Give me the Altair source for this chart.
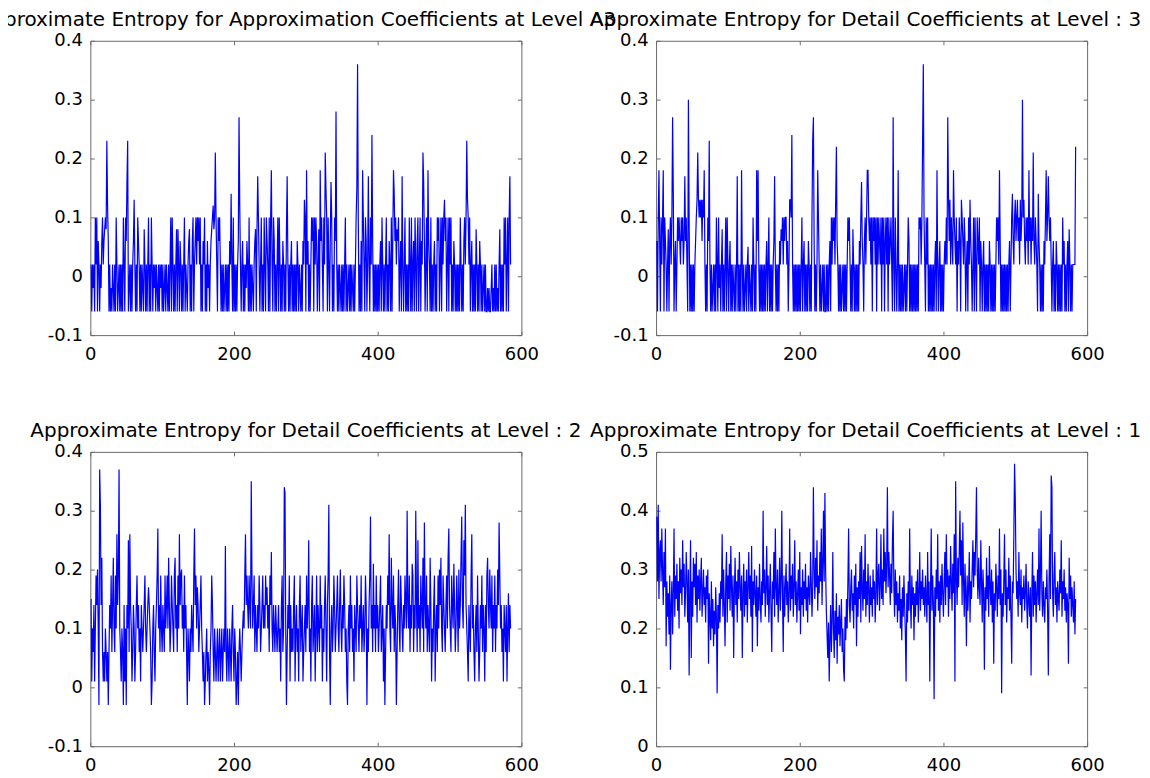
import altair as alt
import numpy as np
import pandas as pd

# values in hundredths, index 1..N
a3 = [
 2,-6,2,-2,2,-6,10,2,10,-6,6,2,-6,2,-2,6,10,2,6,8,
 10,8,23,12,6,-6,2,-6,-2,-6,2,-2,-6,2,-6,10,2,-6,-2,2,
 -6,2,-6,2,-6,10,2,-6,10,6,16,23,-6,-2,2,-6,2,-6,2,6,
 13,2,-6,2,-6,10,6,2,-6,2,-6,2,-2,-6,8,2,-6,2,-6,2,
 10,-6,2,-6,10,2,-6,2,-2,2,-6,2,-2,-6,2,-6,2,-2,2,-6,
 2,-6,-2,2,-6,2,-2,-6,2,-6,2,10,-6,10,2,-6,2,-6,2,8,
 -6,8,2,-6,6,2,-6,2,-6,2,10,-6,2,-2,-6,2,6,8,-6,2,
 -6,6,10,-6,2,6,10,2,10,6,10,2,10,-6,2,-6,6,2,10,-6,
 2,-6,6,-2,2,-6,2,6,8,10,12,8,10,21,10,2,-6,10,6,10,
 2,-6,2,-6,2,-6,-2,2,-6,2,-6,2,-6,6,2,14,2,-6,10,-6,
 2,-6,2,-6,2,6,27,12,2,-6,2,6,-6,2,-6,2,-2,6,2,-6,
 10,-6,2,-6,2,-2,-6,2,6,8,-6,8,17,10,2,-6,2,10,-6,2,
 -6,10,2,-6,10,6,2,-6,10,-6,10,18,2,-6,10,6,-6,2,-6,2,
 10,-6,10,2,-6,2,-6,6,2,-6,2,-6,8,17,2,-6,2,-6,2,6,
 -6,2,-6,2,-6,2,-6,6,2,-6,2,-2,-6,2,-6,6,2,13,10,-6,
 18,2,6,-6,2,-6,2,10,6,10,-6,10,2,10,6,-6,2,8,-6,18,
 6,10,2,-6,10,2,21,15,10,-6,10,2,-6,6,16,10,-6,2,-6,10,
 6,28,2,-6,2,-6,2,-2,-6,2,-6,2,-6,2,10,-6,2,-6,-2,2,
 -6,2,-6,2,-2,-6,2,-6,2,10,15,36,10,-6,2,-6,6,-6,18,10,
 2,-6,10,6,-6,2,17,2,-6,10,2,24,6,-6,2,-6,2,-6,2,-6,
 2,-6,2,6,-6,10,2,-6,2,-6,2,10,-6,2,-6,6,2,-6,10,-6,
 6,18,14,6,10,2,8,6,10,-6,2,6,-6,17,2,-6,2,10,-6,2,
 -6,2,-6,10,2,-6,10,-6,2,6,-6,10,2,-6,6,10,-6,2,10,-6,
 6,2,21,16,6,-6,2,10,-6,18,6,2,-6,10,-6,2,-6,2,6,-6,
 2,-6,10,6,10,-6,2,10,-6,10,2,10,13,6,10,-6,2,10,-6,10,
 2,10,-6,2,-6,6,2,-6,2,-6,2,-6,2,-6,10,2,-6,2,-6,6,
 10,2,10,23,13,10,2,10,-6,2,6,-6,2,-6,2,-6,8,2,-6,2,
 -6,6,2,-6,2,-6,-2,2,-6,2,-6,-6,-2,-6,-2,-6,-6,-2,2,-6,
 -2,-6,2,-6,2,-6,-2,-6,2,8,-6,2,-6,2,-6,10,2,10,-6,2,
 10,-6,10,17,2,
]

d3 = [
 6,-6,10,18,6,-6,10,2,10,18,-6,10,6,2,-6,2,8,-6,6,10,
 2,10,27,14,-6,2,6,-6,2,10,6,10,6,2,10,6,10,2,6,17,
 6,10,2,-6,30,10,-6,2,-6,2,-6,2,-6,2,6,10,13,21,13,10,
 13,10,13,6,13,10,18,2,-6,2,-6,10,6,23,2,-6,2,-6,-2,2,
 -6,2,-6,10,2,-6,10,-2,2,-6,2,8,-6,2,-6,2,10,-6,10,2,
 -6,2,6,-6,2,-6,2,-2,-6,2,-6,2,17,-6,2,-6,2,-6,18,2,
 -6,2,-6,-2,2,-6,2,5,-6,2,-2,-6,2,-6,10,2,-6,2,-6,18,
 6,18,2,-6,2,-6,2,-6,2,-6,2,-6,2,6,-6,2,10,-6,2,-6,
 2,-6,2,6,17,2,-6,2,-6,2,-6,6,2,8,6,10,2,10,6,10,
 10,2,6,-6,2,13,13,10,24,2,-6,2,-6,2,-6,2,-6,2,-6,2,
 -6,2,10,-6,2,6,-6,2,-6,2,-6,6,2,-6,2,-6,10,23,27,6,
 -6,2,-6,2,18,10,2,-6,2,-6,-2,2,-6,2,-6,-6,2,-6,2,-6,
 2,6,-6,10,2,10,6,10,2,13,22,6,2,-6,2,-6,2,-6,-2,2,
 -6,2,-6,2,-6,2,10,6,10,2,-6,2,-6,8,2,-6,2,-6,2,-6,
 2,-6,6,2,10,16,6,2,-6,6,10,2,10,18,18,10,6,10,2,10,
 -6,10,6,10,2,10,-6,10,2,10,6,2,10,-6,10,2,10,-6,6,10,
 2,10,-6,10,2,6,10,2,-6,27,2,-6,10,2,-6,2,18,-6,2,-6,
 2,-6,2,-6,-2,2,-6,2,-6,2,10,6,-6,2,-6,2,-6,2,-6,2,
 -6,2,-6,2,-6,10,8,10,2,10,23,36,10,2,-6,10,2,10,-6,2,
 -6,2,-6,2,-6,2,-6,2,6,-6,18,2,-6,2,6,-6,2,-6,2,-6,
 2,6,2,10,2,27,14,6,13,2,10,6,2,18,10,6,2,10,-6,6,
 2,10,6,-6,13,10,6,2,10,6,-6,2,6,-6,10,2,13,6,2,-6,
 2,10,-6,10,2,-6,10,6,2,10,-6,6,2,-6,2,6,-6,2,-6,2,
 -6,2,-6,6,2,-6,2,-6,2,-6,2,-6,2,10,6,10,2,18,6,-6,
 2,-6,2,-6,2,-6,2,-6,2,-6,2,6,-6,2,10,14,6,2,10,13,
 6,10,13,6,10,2,13,6,10,30,10,13,6,2,10,6,10,2,18,6,
 10,2,10,6,21,6,2,10,6,2,-6,14,6,2,-6,2,-6,2,-6,6,
 2,10,18,6,10,17,10,6,10,2,-6,2,6,-6,2,-6,6,2,-6,2,
 -6,2,-6,2,-6,10,2,6,-6,2,-6,2,6,-6,8,2,-6,2,-6,2,
 2,2,2,22,
]

d2 = [
 15,1,10,6,14,1,10,19,14,20,10,-3,37,31,14,22,6,1,6,1,
 10,6,1,6,-3,6,14,10,19,6,14,22,10,6,19,10,26,14,19,37,
 10,6,1,10,6,-3,14,1,10,-3,14,10,25,6,26,14,10,1,6,14,
 10,1,6,14,19,10,14,6,10,1,14,10,6,10,14,19,10,6,10,14,
 17,14,10,6,-3,1,10,14,6,1,10,14,19,27,10,14,6,19,10,6,
 14,10,6,19,10,14,19,10,22,14,6,10,19,14,10,6,19,22,10,14,
 6,19,10,26,14,19,20,10,14,6,19,10,14,6,-3,10,6,1,10,6,
 14,10,6,19,27,14,19,10,17,14,6,10,14,19,10,6,1,6,-3,1,
 6,10,1,6,3,-3,6,10,19,14,6,1,10,6,1,6,10,1,6,10,
 1,6,10,1,6,10,6,24,6,1,10,6,1,10,6,1,10,14,6,1,
 10,6,-3,1,6,-3,6,10,6,1,6,10,13,10,19,26,14,19,14,10,
 19,14,10,35,19,10,14,19,6,14,10,6,14,10,19,14,6,10,14,19,
 10,14,10,19,14,17,10,14,6,19,14,23,10,6,14,10,6,14,10,6,
 10,14,6,10,1,14,19,6,10,34,33,10,-3,6,14,10,19,1,14,6,
 10,6,14,19,1,10,14,6,10,1,14,19,6,10,14,1,6,10,14,6,
 19,10,14,25,6,10,1,14,19,6,10,14,1,10,19,6,14,10,6,19,
 10,14,1,10,6,14,19,10,1,14,19,31,6,-3,10,14,6,10,19,14,
 6,10,14,19,10,6,14,20,10,6,14,10,19,14,6,10,1,-3,10,14,
 6,19,10,14,6,10,1,14,10,6,19,14,10,6,14,10,19,6,10,14,
 6,10,19,14,-3,10,6,14,19,29,10,14,6,21,10,14,6,19,10,14,
 6,10,14,19,6,10,14,1,10,-3,6,14,10,19,14,26,10,6,22,14,
 10,19,6,14,10,-3,6,14,20,10,6,19,14,10,6,14,10,19,14,10,
 30,14,10,19,6,14,10,21,19,6,14,10,30,14,6,25,10,14,6,19,
 14,10,22,6,28,14,10,19,6,14,10,6,22,14,1,10,6,14,19,1,
 10,14,6,19,10,20,14,22,10,6,19,14,10,6,14,19,10,22,27,14,
 10,6,19,14,10,21,14,6,10,19,14,6,20,10,14,22,29,14,10,25,
 19,31,14,10,6,1,14,10,6,19,26,10,14,6,1,10,14,6,19,10,
 1,6,14,10,19,6,14,10,1,14,6,19,22,14,10,20,14,10,19,6,
 14,10,19,6,14,10,20,14,28,19,10,14,6,10,1,14,10,6,14,1,
 10,16,6,14,10,
]

d1 = [
 39,28,41,25,33,35,28,37,30,24,33,27,37,17,28,22,26,19,29,13,
 24,28,19,26,37,22,29,25,31,23,28,20,32,26,30,24,35,27,31,22,
 26,33,28,21,30,12,26,35,15,28,22,32,27,31,24,33,21,29,25,30,
 23,28,32,22,26,30,24,27,21,29,25,30,14,26,22,18,28,20,25,17,
 23,19,27,22,9,24,20,26,21,28,25,36,22,30,24,17,28,33,21,29,
 25,31,23,34,27,22,29,15,26,32,24,28,21,30,25,33,27,23,29,15,
 26,31,22,28,24,30,21,27,33,25,29,22,34,16,28,24,30,26,22,29,
 17,27,23,31,25,21,28,24,40,26,30,22,27,34,24,29,21,26,31,23,
 16,28,25,33,22,37,27,24,30,21,26,32,23,28,40,25,16,29,22,27,
 31,24,28,21,26,37,23,29,25,31,22,27,35,24,28,21,26,30,23,33,
 19,27,24,30,22,28,25,31,23,27,21,29,26,24,33,28,22,27,44,30,
 25,32,27,35,23,29,26,33,28,37,24,31,40,28,43,30,23,19,15,21,
 11,18,24,16,21,33,20,15,23,18,26,14,22,19,24,17,21,25,16,20,
 13,11,22,18,25,20,28,37,24,21,27,30,23,26,20,29,24,31,17,27,
 22,28,25,33,21,34,27,23,30,25,36,22,28,24,31,26,21,29,24,27,
 22,30,25,28,21,26,37,24,29,31,23,27,36,25,30,24,37,28,33,26,
 31,44,27,33,29,24,31,26,35,40,27,22,30,24,28,21,26,23,29,20,
 25,18,27,22,29,24,19,11,26,21,28,23,37,25,20,29,24,27,18,26,
 22,28,24,30,21,26,33,23,28,25,30,24,27,22,29,25,21,33,24,28,
 11,26,37,23,29,24,8,27,22,30,25,36,23,28,21,29,24,31,26,22,
 28,33,24,36,27,30,22,29,25,34,28,23,31,26,36,11,45,29,24,32,
 27,33,40,29,35,24,38,28,22,31,26,17,29,23,27,33,21,28,25,30,
 35,27,33,29,36,44,30,25,32,27,24,35,28,21,30,26,13,27,23,32,
 25,29,22,34,27,24,30,21,28,14,26,23,31,27,22,29,25,37,24,30,
 9,26,22,28,36,24,30,21,27,25,32,23,29,22,14,28,26,36,48,42,
 30,25,28,22,33,26,24,30,21,27,25,29,23,26,31,24,20,28,25,22,
 27,12,26,33,22,29,24,28,21,26,30,24,37,23,29,40,26,22,28,24,
 21,27,25,30,23,12,28,36,25,46,44,26,22,29,33,24,27,21,28,25,
 23,30,26,35,22,28,25,30,23,27,21,26,24,14,32,25,29,22,27,24,
 21,28,19,25,
]

titles = [
    "Approximate Entropy for Approximation Coefficients at Level A3",
    "Approximate Entropy for Detail Coefficients at Level : 3",
    "Approximate Entropy for Detail Coefficients at Level : 2",
    "Approximate Entropy for Detail Coefficients at Level : 1",
]
x_ticks = [0, 200, 400, 600]
y_ticks_a = [-0.1, 0, 0.1, 0.2, 0.3, 0.4]
y_ticks_b = [0, 0.1, 0.2, 0.3, 0.4, 0.5]

W, H = 432, 295
FONT = "DejaVu Sans"
BOX = "#6a6a6a"
YLAB = "(datum.value < 0 ? '-' : '') + (datum.value == 0 ? '0' : format(abs(datum.value), '.1f'))"


def panel(vals, title, ydom, yticks, tdx):
    df = pd.DataFrame({"x": np.arange(1, len(vals) + 1), "y": np.array(vals) / 100.0})
    xs = alt.Scale(domain=[0, 600], nice=False, zero=False)
    ys = alt.Scale(domain=ydom, nice=False, zero=False)
    base = alt.Chart(df)
    main = base.mark_line(color="#0000ff", strokeWidth=1.2, clip=True).encode(
        x=alt.X("x:Q", scale=xs, axis=alt.Axis(
            orient="bottom", values=x_ticks, format="d", ticks=False, tickSize=0,
            domain=False, grid=False, title=None, labelPadding=10, labelFlush=False,
            labelFont=FONT, labelFontSize=18, labelColor="black")),
        y=alt.Y("y:Q", scale=ys, axis=alt.Axis(
            orient="left", values=yticks, labelExpr=YLAB, ticks=False, tickSize=0,
            domain=False, grid=False, title=None, labelPadding=8, labelFlush=False,
            labelFont=FONT, labelFontSize=18, labelColor="black")),
    )
    tk1 = base.mark_line(strokeOpacity=0).encode(
        x=alt.X("x:Q", scale=xs, axis=alt.Axis(
            orient="top", offset=-H, values=x_ticks, labels=False, ticks=True,
            tickSize=4, tickColor=BOX, domain=False, grid=False, title=None)),
        y=alt.Y("y:Q", scale=ys, axis=alt.Axis(
            orient="right", offset=-W, values=yticks, labels=False, ticks=True,
            tickSize=4, tickColor=BOX, domain=False, grid=False, title=None)),
    )
    tk2 = base.mark_line(strokeOpacity=0).encode(
        x=alt.X("x:Q", scale=xs, axis=alt.Axis(
            orient="bottom", offset=-H, values=x_ticks, labels=False, ticks=True,
            tickSize=4, tickColor=BOX, domain=False, grid=False, title=None)),
        y=alt.Y("y:Q", scale=ys, axis=alt.Axis(
            orient="left", offset=-W, values=yticks, labels=False, ticks=True,
            tickSize=4, tickColor=BOX, domain=False, grid=False, title=None)),
    )
    return alt.layer(main, tk1, tk2).resolve_axis(
        x="independent", y="independent"
    ).properties(
        width=W, height=H,
        title=alt.TitleParams(title, font=FONT, fontSize=20, fontWeight="normal",
                              color="black", anchor="middle", frame="group",
                              offset=2, dx=tdx),
    )


p1 = panel(a3, titles[0], [-0.1, 0.4], y_ticks_a, -9)
p2 = panel(d3, titles[1], [-0.1, 0.4], y_ticks_a, -6)
p3 = panel(d2, titles[2], [-0.1, 0.4], y_ticks_a, 0)
p4 = panel(d1, titles[3], [0, 0.5], y_ticks_b, -6)

chart = alt.concat(
    p1, p2, p3, p4, columns=2,
    spacing={"row": 117, "column": 135}, bounds="flush",
).properties(
    padding={"left": -31.5, "top": 0, "right": 0, "bottom": 0},
    background="white",
).configure_view(stroke=BOX, strokeWidth=1)

chart.save("out.html", embed_options={"renderer": "svg", "actions": False})
